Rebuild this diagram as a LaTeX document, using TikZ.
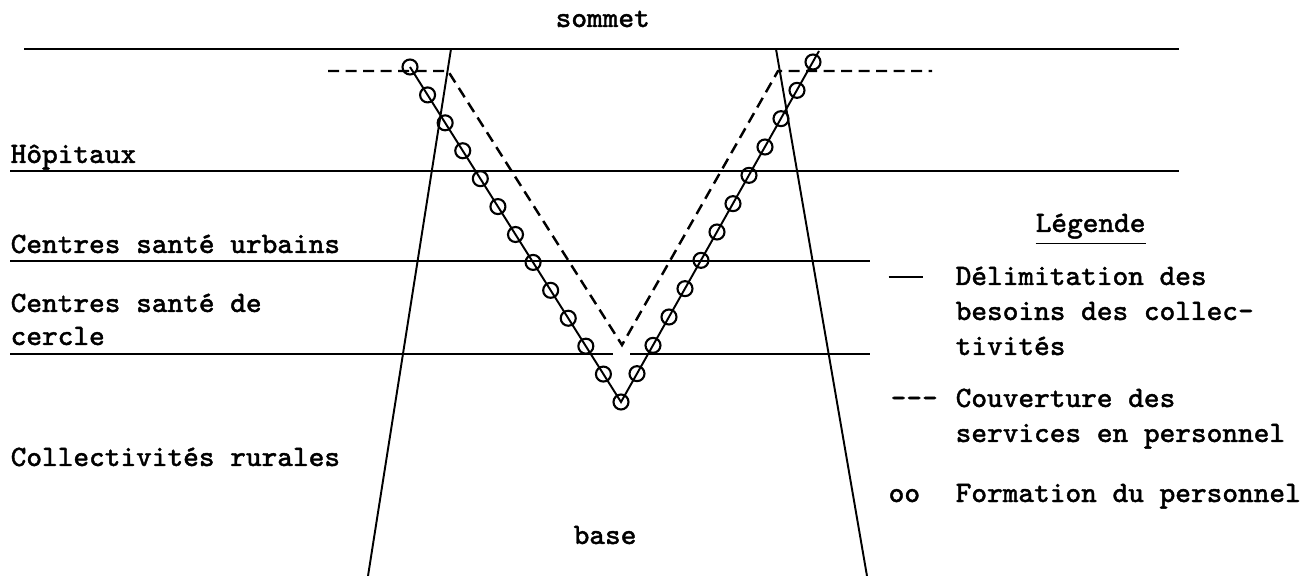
\documentclass[tikz,border=0pt]{standalone}
\usepackage{fontspec}
\setmainfont{Latin Modern Mono}[FakeBold=1.4]
\usepackage{tikz}
\usetikzlibrary{calc, positioning}

\begin{document}
\begin{tikzpicture}[x=0.01cm, y=-0.01cm]

\tikzset{tier/.style = {line width=0.65pt}}
\tikzset{side/.style = {line width=0.55pt}}
\tikzset{txt/.style = {font=\fontsize{8.4}{10}\selectfont, inner sep=0pt, anchor=base west}}
\tikzset{ring/.style = {shape=circle, draw, line width=0.6pt, minimum size=0.15cm, inner sep=0pt}}
\tikzset{cover/.style = {dash pattern=on 0.11cm off 0.065cm, line width=0.7pt}}

\useasboundingbox (0,0) rectangle (1308,576);

% levels
\coordinate (top1) at (24,49);   \coordinate (top2) at (1179,49);
\coordinate (hop1) at (10,171);  \coordinate (hop2) at (1179,171);
\coordinate (urb1) at (10,261);  \coordinate (urb2) at (870,261);
\coordinate (cer1) at (10,354);  \coordinate (cer2) at (613,354);
\coordinate (cer3) at (630,354); \coordinate (cer4) at (870,354);
\draw[tier] (top1) -- (top2);
\draw[tier] (hop1) -- (hop2);
\draw[tier] (urb1) -- (urb2);
\draw[tier] (cer1) -- (cer2);
\draw[tier] (cer3) -- (cer4);

% sides
\coordinate (ls1) at (451,49); \coordinate (ls2) at (368,576);
\coordinate (rs1) at (776,49); \coordinate (rs2) at (867,576);
\draw[side] (ls1) -- (ls2);
\draw[side] (rs1) -- (rs2);

% coverage
\coordinate (c1) at (328,71);  \coordinate (c2) at (448,71);
\coordinate (capex) at (622,345);
\coordinate (c3) at (778,71);  \coordinate (c4) at (932,71);
\draw[cover] (c1) -- (c2) -- (capex) -- (c3) -- (c4);

% training
\coordinate (ltop) at (410,67);
\coordinate (apex) at (621,402);
\coordinate (rtop) at (813,62);
\coordinate (rend) at (819,51);
\foreach \i in {0,...,12}
  \node[ring] (l\i) at ($(ltop)!\i/12!(apex)$) {};
\foreach \i in {1,...,12}
  \node[ring] (r\i) at ($(apex)!\i/12!(rtop)$) {};
\draw[side] (ltop) -- (apex) -- (rend);

% labels
\node[txt] (sommet) at (555,27) {sommet};
\node[txt] (hopitaux) at (10,163) {Hôpitaux};
\node[txt] (urbains) at (10,253) {Centres santé urbains};
\node[txt] (cercle1) at (10,312) {Centres santé de};
\node[txt] (cercle2) at (10,345) {cercle};
\node[txt] (rurales) at (10,466) {Collectivités rurales};
\node[txt] (base) at (573,544) {base};

% legend
\node[txt] (legende) at (1035,232) {\underline{Légende}};
\node[inner sep=0pt, anchor=west] (key1) at (888,277) {\rule{0.34cm}{0.65pt}};
\node[txt] (leg1a) at (955,285) {Délimitation des};
\node[txt] (leg1b) at (955,320) {besoins des collec-};
\node[txt] (leg1c) at (955,355) {tivités};
\node[txt] (key2) at (890,407) {-{}-{}-};
\node[txt] (leg2a) at (955,407) {Couverture des};
\node[txt] (leg2b) at (955,442) {services en personnel};
\node[txt] (key3) at (888,502) {oo};
\node[txt] (leg3a) at (955,502) {Formation du personnel};
\end{tikzpicture}
\end{document}
